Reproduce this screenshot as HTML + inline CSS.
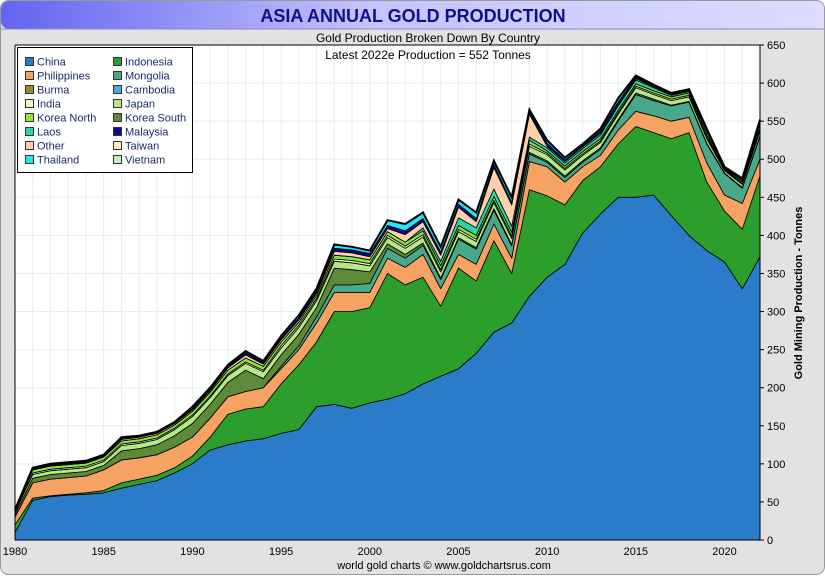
<!DOCTYPE html>
<html><head><meta charset="utf-8"><style>
body{margin:0;width:825px;height:575px;overflow:hidden;background:#fff;font-family:"Liberation Sans",sans-serif}
</style></head><body>
<svg id="chart" width="825" height="575" xmlns="http://www.w3.org/2000/svg" font-family="Liberation Sans, sans-serif">
<defs><linearGradient id="tg" x1="0" x2="1"><stop offset="0" stop-color="#6464f0"/><stop offset="0.45" stop-color="#c4c4ff"/><stop offset="1" stop-color="#dcdcff"/></linearGradient></defs>
<rect x="0.5" y="0.5" width="824" height="574" rx="8" fill="#e2e2e2" stroke="#999"/>
<rect x="1" y="1" width="823" height="28" rx="8" fill="url(#tg)"/>
<line x1="1" y1="29" x2="824" y2="29" stroke="#8888cc"/>
<text x="413" y="22" text-anchor="middle" font-size="18" font-weight="bold" fill="#10108a">ASIA ANNUAL GOLD PRODUCTION</text>
<rect x="15" y="45" width="745" height="495" fill="#fff"/>
<g id="grid"></g>
<g id="areas"></g>
<text x="428" y="42" text-anchor="middle" font-size="12">Gold Production Broken Down By Country</text>
<text x="428" y="59" text-anchor="middle" font-size="12">Latest 2022e  Production = 552 Tonnes</text>
<g id="axes"></g>
<g id="legend"></g>
<text transform="translate(802,293) rotate(-90)" text-anchor="middle" font-size="11" font-weight="bold">Gold Mining Production - Tonnes</text>
<text x="444" y="569" text-anchor="middle" font-size="11">world gold charts © www.goldchartsrus.com</text>
</svg>
<script>
const years=[];for(let y=1980;y<=2022;y++)years.push(y);
const yTicks=[0,50,100,150,200,250,300,350,400,450,500,550,600,650];
const xTicks=[1980,1985,1990,1995,2000,2005,2010,2015,2020];
const china=[10,52,57,59,60,62,68,73,78,88,100,118,125,130,133,140,145,175,178,173,180,185,192,205,215,225,245,273,285,320,345,362,403,428,450,450,453,426,400,380,365,330,372];
const indonesia=[10,3,1,1,2,3,7,7,7,7,10,17,40,42,42,65,85,85,122,127,125,165,143,140,92,132,95,120,65,140,107,78,69,62,70,93,82,101,135,90,67,78,106];
const philippines=[10,20,22,22,22,27,30,28,27,27,25,25,23,23,25,20,20,25,25,25,20,20,23,30,23,18,22,22,20,37,38,30,18,15,18,20,22,23,20,25,21,34,22];
const mongolia=[0,0,0,0,0,0,0,0,0,0,0,0,0,0,0,3,5,8,10,10,12,13,12,12,12,20,20,18,16,10,6,6,6,8,12,22,20,20,20,25,28,20,30];
const koreaSouth=[3,6,6,6,6,6,12,12,13,15,18,18,19,28,12,15,15,12,22,20,15,6,5,3,2,2,2,2,2,2,2,2,2,2,2,2,2,1,1,1,1,1,1];
const japan=[3,5,5,5,5,5,7,7,7,8,9,9,9,9,9,9,9,9,9,9,8,8,8,8,8,8,8,8,8,8,8,8,7,7,7,7,6,6,6,6,3,4,6];
const india=[1,2,2,2,2,2,2,2,2,2,2,2,2,2,2,3,3,3,3,3,3,3,3,3,3,3,3,3,3,3,2,2,2,2,2,2,2,2,2,2,1,1,1];
const koreaNorth=[2,4,4,4,4,4,4,4,4,4,5,5,5,5,5,5,4,4,5,5,5,5,5,5,5,5,5,5,5,5,3,3,3,3,3,3,3,3,3,3,1,2,3];
const laos=[0,0,0,0,0,0,0,0,0,0,0,0,0,0,0,0,0,0,0,0,0,0,0,4,6,10,10,10,8,4,4,4,4,5,6,5,4,2,2,4,1,2,5];
const other=[0,1,1,1,1,1,2,2,2,2,2,2,3,4,3,3,3,3,5,5,4,4,10,8,8,14,8,28,28,30,2,2,2,2,2,2,1,1,1,1,1,1,1];
const malaysia=[1,1,1,1,1,1,2,1,1,1,2,2,2,3,2,2,3,3,4,4,4,4,5,4,4,4,4,4,3,3,4,2,2,3,3,2,1,1,1,1,0,1,2];
const thailand=[0,1,1,1,1,1,1,1,1,1,2,2,2,2,2,3,3,3,5,4,4,7,9,8,7,6,8,5,7,3,4,3,2,3,5,2,2,1,1,2,1,1,3];
const series=[["china",china,"#2a7cc8"],["indonesia",indonesia,"#2c9e2c"],["philippines",philippines,"#f5a262"],["mongolia",mongolia,"#48a88a"],["korea-south",koreaSouth,"#5c8a38"],["japan",japan,"#b6e88a"],["india",india,"#e8fbc2"],["korea-north",koreaNorth,"#8ae83a"],["laos",laos,"#2ad6a6"],["other",other,"#ffd0aa"],["malaysia",malaysia,"#0a0a88"],["thailand",thailand,"#22e8f2"]];
const legendItems=[["China","#2a7cc8"],["Indonesia","#2c9e2c"],["Philippines","#f5a262"],["Mongolia","#48a88a"],["Burma","#9a8a2a"],["Cambodia","#4aa4ee"],["India","#e8fbc2"],["Japan","#b6e88a"],["Korea North","#8ae83a"],["Korea South","#5c8a38"],["Laos","#2ad6a6"],["Malaysia","#0a0a88"],["Other","#ffd0aa"],["Taiwan","#ffeebb"],["Thailand","#22e8f2"],["Vietnam","#c0f0c0"]];
const NS="http://www.w3.org/2000/svg";
const X=y=>15+(y-1980)*(745/42);
const Y=v=>540-v*(495/650);
function mk(t,a,p){const e=document.createElementNS(NS,t);for(const k in a)e.setAttribute(k,a[k]);p.appendChild(e);return e;}
const grid=document.getElementById('grid');
years.forEach(y=>{const l=mk('line',{x1:X(y),x2:X(y),y1:45,y2:540,stroke:'#e2eef6'},grid);

});
yTicks.forEach(v=>{const l=mk('line',{x1:15,x2:760,y1:Y(v),y2:Y(v),stroke:'#e2eef6'},grid);

});
const areas=document.getElementById('areas');
let base=years.map(()=>0);
series.forEach(([name,vals,col])=>{
 const top=base.map((b,i)=>b+vals[i]);
 let d='M'+years.map((y,i)=>X(y).toFixed(1)+','+Y(top[i]).toFixed(1)).join('L');
 for(let i=years.length-1;i>=0;i--)d+='L'+X(years[i]).toFixed(1)+','+Y(base[i]).toFixed(1);
 const p=mk('path',{d:d+'Z',fill:col,stroke:'#000','stroke-width':0.8,'stroke-linejoin':'round'},areas);
 
 
 base=top;});
const tl=mk('path',{d:'M'+years.map((y,i)=>X(y).toFixed(1)+','+Y(base[i]).toFixed(1)).join('L'),fill:'none',stroke:'#000','stroke-width':2},areas);


const ax=document.getElementById('axes');
mk('line',{x1:15,x2:15,y1:45,y2:540,stroke:'#000'},ax);
mk('line',{x1:15,x2:760,y1:45,y2:45,stroke:'#000'},ax);
mk('line',{x1:760,x2:760,y1:45,y2:540,stroke:'#000'},ax);
mk('line',{x1:15,x2:760,y1:540,y2:540,stroke:'#000'},ax);
yTicks.forEach(v=>{mk('line',{x1:760,x2:764,y1:Y(v),y2:Y(v),stroke:'#000'},ax);
 const t=mk('text',{x:767,y:Y(v)+4,'font-size':11},ax);t.textContent=v;
 
 });
xTicks.forEach(y=>{const t=mk('text',{x:X(y),y:555,'font-size':11,'text-anchor':'middle'},ax);t.textContent=y;
 
 });
const lg=document.getElementById('legend');
mk('rect',{x:17.5,y:47.5,width:175,height:125,fill:'#fff',stroke:'#000'},lg);
legendItems.forEach(([n,c],i)=>{const col=i%2,row=Math.floor(i/2);
 const gx=col?113:25,gy=57+row*14;
 const g=mk('g',{},lg);
 
 
 mk('rect',{x:gx+0.5,y:gy+0.5,width:8,height:8,fill:c,stroke:'#333'},g);
 const t=mk('text',{x:gx+12,y:gy+8.5,'font-size':11,fill:'#1a2a6a'},g);t.textContent=n;});
</script>
</body></html>
